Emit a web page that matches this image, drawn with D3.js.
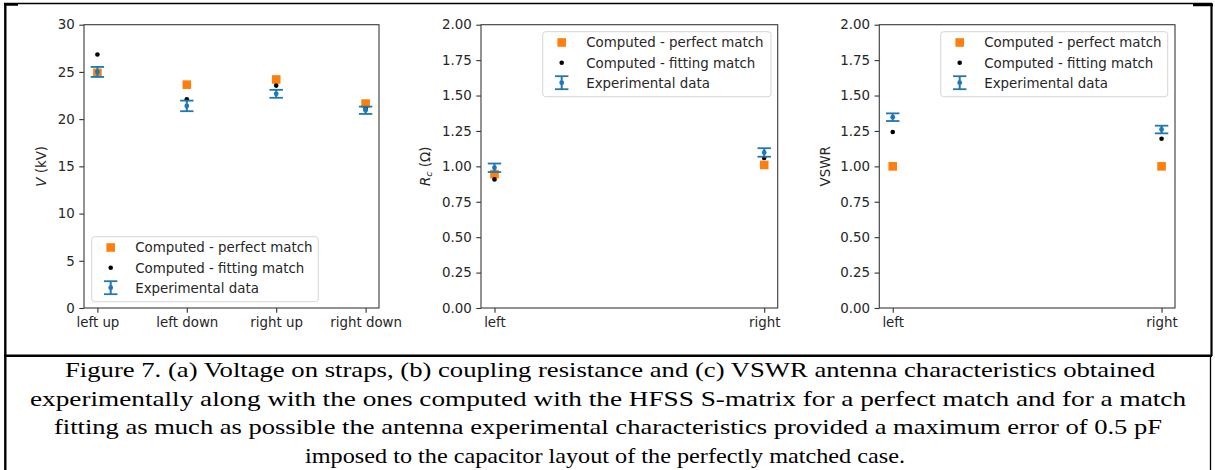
<!DOCTYPE html>
<html>
<head>
<meta charset="utf-8">
<script src="https://cdn.jsdelivr.net/npm/d3@7/dist/d3.min.js"></script>
<style>
  html, body { margin: 0; padding: 0; background: #fff; }
  svg { display: block; }
  .tick text { font-family: "DejaVu Sans", sans-serif; font-size: 13.4px; fill: #262626; }
  .caption { font-family: "Liberation Serif", "Times New Roman", serif; font-size: 21px; fill: #000; }
</style>
</head>
<body>
<svg id="fig" width="1215" height="470"></svg>
<script>
// (a) strap voltages
const strapCategories = ["left up", "left down", "right up", "right down"];
const voltagePerfect = [24.9, 23.65, 24.2, 21.65];
const voltageFitting = [26.85, 22.1, 23.55, 21.1];
const voltageExp = [25.0, 21.4, 22.68, 20.94];
const voltageErr = [0.53, 0.56, 0.42, 0.39];
const voltageTicks = [0, 5, 10, 15, 20, 25, 30];

// (b) coupling resistance
const sideCategories = ["left", "right"];
const rcPerfect = [0.945, 1.01];
const rcFitting = [0.908, 1.059];
const rcExp = [0.99, 1.098];
const rcErr = [0.03, 0.03];

// (c) VSWR
const vswrPerfect = [1.0, 1.0];
const vswrFitting = [1.242, 1.195];
const vswrExp = [1.347, 1.26];
const vswrErr = [0.027, 0.027];

const unitTicks = [0, 0.25, 0.5, 0.75, 1.0, 1.25, 1.5, 1.75, 2.0];

const legendLabels = ["Computed - perfect match", "Computed - fitting match", "Experimental data"];

const captionLines = [
  "Figure 7. (a) Voltage on straps, (b) coupling resistance and (c) VSWR antenna characteristics obtained",
  "experimentally along with the ones computed with the HFSS S-matrix for a perfect match and for a match",
  "fitting as much as possible the antenna experimental characteristics provided a maximum error of 0.5 pF",
  "imposed to the capacitor layout of the perfectly matched case."
];

const ORANGE = "#ff7f0e", BLUE = "#1f77b4", BLACK = "#000";
const FONT = "DejaVu Sans, sans-serif";

const svg = d3.select("#fig");
svg.append("rect").attr("width", 1215).attr("height", 470).attr("fill", "#fff");

function panel(cfg) {
  const { left, right, top, bottom, cats, perfect, fitting, exp, err, yDomain, yTicks, tickFmt, legend, ylabel, ylabelX } = cfg;
  const n = cats.length;
  const pad = (n - 1) * 0.05;
  const x = d3.scaleLinear().domain([-pad, n - 1 + pad]).range([left, right]);
  const y = d3.scaleLinear().domain(yDomain).range([bottom, top]);
  const g = svg.append("g");

  // axes
  const xAxis = d3.axisBottom(x).tickValues(d3.range(n)).tickFormat(i => cats[i]).tickSize(4.7).tickPadding(4.5);
  const yAxis = d3.axisLeft(y).tickValues(yTicks).tickFormat(tickFmt).tickSize(4.7).tickPadding(4.5);
  const gx = g.append("g").attr("transform", `translate(0,${bottom})`).call(xAxis);
  const gy = g.append("g").attr("transform", `translate(${left},0)`).call(yAxis);
  [gx, gy].forEach(a => {
    a.select(".domain").remove();
    a.selectAll(".tick line").attr("stroke", "#333").attr("stroke-width", 1.1);
  });

  // frame
  g.append("rect").attr("x", left).attr("y", top).attr("width", right - left).attr("height", bottom - top)
    .attr("fill", "none").attr("stroke", "#3a3a3a").attr("stroke-width", 1.1);

  // y label
  const yl = g.append("text").attr("transform", `translate(${ylabelX},${(top + bottom) / 2}) rotate(-90)`)
    .attr("text-anchor", "middle").attr("font-family", FONT).attr("font-size", 13.4).attr("fill", "#262626");
  ylabel(yl);

  const idx = d3.range(n);
  // computed perfect match
  g.append("g").selectAll("rect").data(idx).join("rect")
    .attr("x", i => x(i) - 4.3).attr("y", i => y(perfect[i]) - 4.3)
    .attr("width", 8.6).attr("height", 8.6).attr("fill", ORANGE);
  // computed fitting match
  g.append("g").selectAll("circle").data(idx).join("circle")
    .attr("cx", i => x(i)).attr("cy", i => y(fitting[i])).attr("r", 2.3).attr("fill", BLACK);
  // experimental data with error bars
  const eb = g.append("g").selectAll("g").data(idx).join("g");
  eb.append("line").attr("x1", i => x(i)).attr("x2", i => x(i))
    .attr("y1", i => y(exp[i] - err[i])).attr("y2", i => y(exp[i] + err[i]))
    .attr("stroke", BLUE).attr("stroke-width", 2);
  [-1, 1].forEach(s => {
    eb.append("line").attr("x1", i => x(i) - 6.7).attr("x2", i => x(i) + 6.7)
      .attr("y1", i => y(exp[i] + s * err[i])).attr("y2", i => y(exp[i] + s * err[i]))
      .attr("stroke", BLUE).attr("stroke-width", 1.8);
  });
  eb.append("circle").attr("cx", i => x(i)).attr("cy", i => y(exp[i])).attr("r", 2.4).attr("fill", BLUE);

  // legend
  const L = legend;
  const lg = g.append("g");
  lg.append("rect").attr("x", L.x).attr("y", L.y).attr("width", L.w).attr("height", L.h)
    .attr("rx", 3).attr("fill", "#fff").attr("fill-opacity", 0.8).attr("stroke", "#d6d6d6").attr("stroke-width", 1);
  const mx = L.x + 19, tx = L.x + 43.5;
  const rows = [L.y + 10.8, L.y + 31, L.y + 51];
  lg.append("rect").attr("x", mx - 4.3).attr("y", rows[0] - 4.3).attr("width", 8.6).attr("height", 8.6).attr("fill", ORANGE);
  lg.append("circle").attr("cx", mx).attr("cy", rows[1]).attr("r", 2.3).attr("fill", BLACK);
  const ey = rows[2];
  lg.append("line").attr("x1", mx).attr("x2", mx).attr("y1", ey - 6.5).attr("y2", ey + 6.5).attr("stroke", BLUE).attr("stroke-width", 2);
  [-6.5, 6.5].forEach(d => lg.append("line").attr("x1", mx - 6.7).attr("x2", mx + 6.7)
    .attr("y1", ey + d).attr("y2", ey + d).attr("stroke", BLUE).attr("stroke-width", 1.8));
  lg.append("circle").attr("cx", mx).attr("cy", ey).attr("r", 2.4).attr("fill", BLUE);
  legendLabels.forEach((t, k) => lg.append("text").attr("x", tx).attr("y", rows[k]).attr("dy", "0.36em")
    .attr("font-family", FONT).attr("font-size", 13.4).attr("fill", "#262626").text(t));
}

panel({
  left: 84, right: 379, top: 24.7, bottom: 308,
  cats: strapCategories, perfect: voltagePerfect, fitting: voltageFitting, exp: voltageExp, err: voltageErr,
  yDomain: [0, 30], yTicks: voltageTicks, tickFmt: d3.format("d"),
  legend: { x: 91.7, y: 236.7, w: 226.6, h: 65 },
  ylabelX: 46,
  ylabel: t => { t.append("tspan").attr("font-style", "italic").text("V"); t.append("tspan").text(" (kV)"); }
});

panel({
  left: 481, right: 777.7, top: 24.7, bottom: 308,
  cats: sideCategories, perfect: rcPerfect, fitting: rcFitting, exp: rcExp, err: rcErr,
  yDomain: [0, 2], yTicks: unitTicks, tickFmt: d3.format(".2f"),
  legend: { x: 542.7, y: 31.7, w: 228.3, h: 65 },
  ylabelX: 429.5,
  ylabel: t => {
    t.append("tspan").attr("font-style", "italic").text("R");
    t.append("tspan").attr("font-style", "italic").attr("font-size", 9.5).attr("dy", 2.5).text("c");
    t.append("tspan").attr("dy", -2.5).text(" (Ω)");
  }
});

panel({
  left: 879.3, right: 1175, top: 24.7, bottom: 308,
  cats: sideCategories, perfect: vswrPerfect, fitting: vswrFitting, exp: vswrExp, err: vswrErr,
  yDomain: [0, 2], yTicks: unitTicks, tickFmt: d3.format(".2f"),
  legend: { x: 940.7, y: 31.7, w: 227, h: 65 },
  ylabelX: 829.5,
  ylabel: t => t.text("VSWR")
});

// figure and caption frame
const frame = svg.append("g").attr("stroke", "#000").attr("fill", "none");
frame.append("line").attr("x1", 4).attr("x2", 1212).attr("y1", 3.5).attr("y2", 3.5).attr("stroke-width", 1.3);
frame.append("line").attr("x1", 4).attr("x2", 18).attr("y1", 4.5).attr("y2", 4.5).attr("stroke-width", 2.5);
frame.append("line").attr("x1", 1193).attr("x2", 1213).attr("y1", 5).attr("y2", 5).attr("stroke-width", 2.5);
frame.append("line").attr("x1", 5.3).attr("x2", 5.3).attr("y1", 3).attr("y2", 470).attr("stroke-width", 2.4);
frame.append("line").attr("x1", 1211.5).attr("x2", 1211.5).attr("y1", 3).attr("y2", 356).attr("stroke-width", 2.2);
frame.append("line").attr("x1", 1210.5).attr("x2", 1210.5).attr("y1", 356).attr("y2", 470).attr("stroke-width", 1.3);
frame.append("line").attr("x1", 4).attr("x2", 1212).attr("y1", 355.8).attr("y2", 355.8).attr("stroke-width", 2.4);

// caption, stretched to the measured line extents
const capSpans = [[65, 1155], [30, 1186], [54, 1162], [305, 905]];
const capBase = [377, 405.5, 434, 462.5];
captionLines.forEach((t, k) => {
  svg.append("text").attr("class", "caption").attr("x", capSpans[k][0]).attr("y", capBase[k])
    .attr("textLength", capSpans[k][1] - capSpans[k][0]).attr("lengthAdjust", "spacingAndGlyphs")
    .text(t);
});
</script>
</body>
</html>
